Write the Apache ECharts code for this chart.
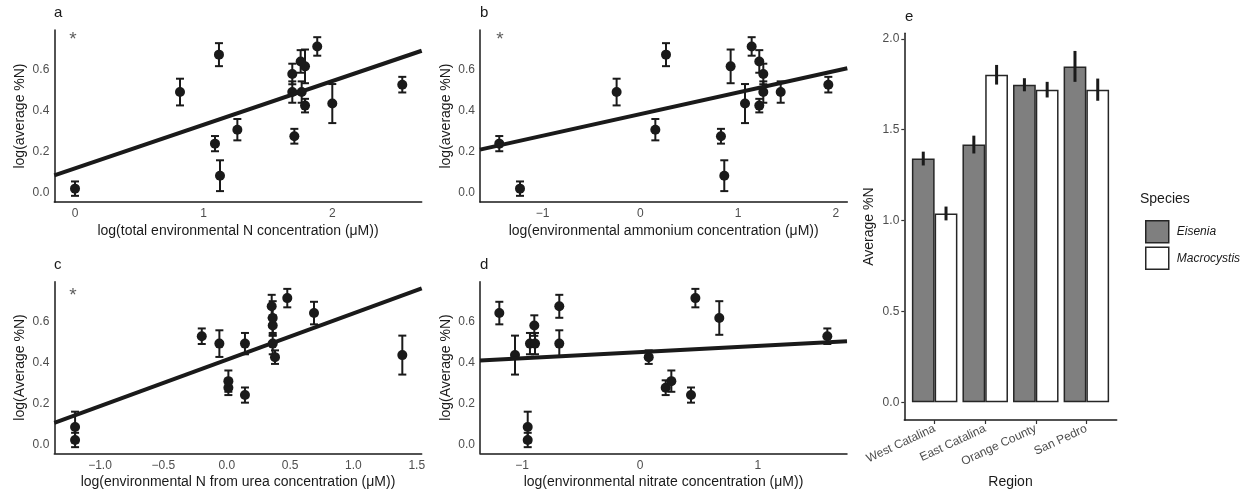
<!DOCTYPE html>
<html>
<head>
<meta charset="utf-8">
<script src="https://cdn.jsdelivr.net/npm/echarts@6/dist/echarts.min.js"></script>
<style>
  html, body { margin: 0; padding: 0; background: #fff; }
  #chart { width: 1247px; height: 496px; }
</style>
</head>
<body>
<div id="chart"></div>
<script>
// ---- Per-sample tissue nitrogen (log of average %N) and its standard error ----
const logN    = [0.021, 0.084, 0.240, 0.276, 0.308, 0.425, 0.435, 0.491, 0.491, 0.491, 0.527, 0.579, 0.616, 0.640, 0.673, 0.713];
const logNErr = [0.035, 0.075, 0.037, 0.036, 0.052, 0.033, 0.095, 0.065, 0.052, 0.052, 0.038, 0.050, 0.082, 0.055, 0.056, 0.045];

// ---- Environmental predictors for the same samples (log µM) ----
const totalN   = [0.000, 1.127, 1.088, 1.705, 1.262, 1.788, 2.000, 0.816, 1.689, 1.762, 2.544, 1.689, 1.788, 1.754, 1.119, 1.883];
const ammonium = [-1.231, 0.858, -1.443, 0.824, 0.153, 1.216, 1.070, -0.243, 1.257, 1.435, 1.922, 1.257, 0.923, 1.216, 0.262, 1.138];
const ureaN    = [-1.197, -1.197, 0.144, 0.013, 0.013, 0.381, 1.386, -0.058, 0.144, 0.363, -0.197, 0.363, 0.363, 0.689, 0.355, 0.478];
const nitrate  = [-0.953, -0.953, 0.433, 0.218, 0.266, 0.074, -1.061, -0.685, -0.934, -0.891, 1.590, -0.897, 0.673, -1.194, -0.685, 0.470];

// ---- Linear fits, evaluated at both ends of each x range ----
const fitTotalN   = [[-0.161, 0.086], [2.695, 0.692]];
const fitAmmonium = [[-1.640, 0.211], [2.116, 0.607]];
const fitUrea     = [[-1.361, 0.104], [1.539, 0.761]];
const fitNitrate  = [[-1.358, 0.409], [1.757, 0.503]];

// ---- Tick labels ----
const ticksLogN     = [0, 0.2, 0.4, 0.6];
const ticksTotalN   = [0, 1, 2];
const ticksAmmonium = [-1, 0, 1, 2];
const ticksUrea     = [-1.0, -0.5, 0.0, 0.5, 1.0, 1.5];
const ticksNitrate  = [-1, 0, 1];
const ticksPctN     = [0, 0.5, 1.0, 1.5, 2.0];

// ---- Regional averages of %N by species ----
const regions        = ['West Catalina', 'East Catalina', 'Orange County', 'San Pedro'];
const species        = ['Eisenia', 'Macrocystis'];
const eiseniaMean    = [1.341, 1.418, 1.747, 1.848];
const eiseniaErr     = [0.038, 0.049, 0.036, 0.085];
const macrocystisMean = [1.039, 1.802, 1.720, 1.720];
const macrocystisErr  = [0.038, 0.054, 0.043, 0.061];

const FONT = "'Liberation Sans', Arial, sans-serif";
const INK = '#1a1a1a';
const TICK_GREY = '#4d4d4d';
const minus = v => String(v).replace('-', '\u2212');

// ---- Shared renderers ----
function errorBarRenderer(cap, width) {
  return function (params, api) {
    const x = api.value(0);
    const top = api.coord([x, api.value(2)]);
    const bot = api.coord([x, api.value(1)]);
    const style = { stroke: INK, lineWidth: width };
    const children = [
      { type: 'line', shape: { x1: top[0], y1: top[1], x2: bot[0], y2: bot[1] }, style }
    ];
    if (cap > 0) {
      children.push({ type: 'line', shape: { x1: top[0] - cap, y1: top[1], x2: top[0] + cap, y2: top[1] }, style });
      children.push({ type: 'line', shape: { x1: bot[0] - cap, y1: bot[1], x2: bot[0] + cap, y2: bot[1] }, style });
    }
    return { type: 'group', children };
  };
}

// ---- Scatter panels a–d ----
const Y_RANGE = [-0.044, 0.793];
const panels = [
  { grid: { left: 54.3, top: 30, width: 367.4, height: 172 }, x: totalN, xr: [-0.161, 2.695], ticks: ticksTotalN, fmt: v => String(v),
    fit: fitTotalN, xName: 'log(total environmental N concentration (\u03BCM))', yName: 'log(average %N)', star: [-0.016, 0.745] },
  { grid: { left: 480, top: 30, width: 367.3, height: 172 }, x: ammonium, xr: [-1.640, 2.116], ticks: ticksAmmonium, fmt: v => minus(v),
    fit: fitAmmonium, xName: 'log(environmental ammonium concentration (\u03BCM))', yName: 'log(average %N)', star: [-1.436, 0.745] },
  { grid: { left: 54.3, top: 281.7, width: 367.4, height: 171.6 }, x: ureaN, xr: [-1.361, 1.539], ticks: ticksUrea, fmt: v => minus(v.toFixed(1)),
    fit: fitUrea, xName: 'log(environmental N from urea concentration (\u03BCM))', yName: 'log(Average %N)', star: [-1.213, 0.722] },
  { grid: { left: 480, top: 281.7, width: 367, height: 171.6 }, x: nitrate, xr: [-1.358, 1.757], ticks: ticksNitrate, fmt: v => minus(v),
    fit: fitNitrate, xName: 'log(environmental nitrate concentration (\u03BCM))', yName: 'log(Average %N)', star: null }
];

const grids = [], xAxes = [], yAxes = [], series = [];

panels.forEach((p, i) => {
  grids.push(p.grid);
  xAxes.push({
    type: 'value', gridIndex: i, min: p.xr[0], max: p.xr[1],
    splitLine: { show: false },
    axisLine: { show: true, onZero: false, lineStyle: { color: INK, width: 1.5 } },
    axisTick: { show: false, customValues: p.ticks },
    axisLabel: { customValues: p.ticks, formatter: p.fmt, color: TICK_GREY, fontSize: 12, fontFamily: FONT, margin: 6 },
    name: p.xName, nameLocation: 'middle', nameGap: 22,
    nameTextStyle: { color: INK, fontSize: 14, fontFamily: FONT }
  });
  yAxes.push({
    type: 'value', gridIndex: i, min: Y_RANGE[0], max: Y_RANGE[1],
    splitLine: { show: false },
    axisLine: { show: true, onZero: false, lineStyle: { color: INK, width: 1.5 } },
    axisTick: { show: false, customValues: ticksLogN },
    axisLabel: { customValues: ticksLogN, formatter: v => v.toFixed(1), color: TICK_GREY, fontSize: 12, fontFamily: FONT, margin: 5 },
    name: p.yName, nameLocation: 'middle', nameGap: 27,
    nameTextStyle: { color: INK, fontSize: 14, fontFamily: FONT }
  });

  series.push({
    type: 'custom', xAxisIndex: i, yAxisIndex: i, z: 2,
    renderItem: errorBarRenderer(4, 2),
    encode: { x: 0, y: [1, 2] },
    data: p.x.map((x, k) => [x, logN[k] - logNErr[k], logN[k] + logNErr[k]]),
    silent: true
  });
  series.push({
    type: 'scatter', xAxisIndex: i, yAxisIndex: i, z: 3,
    symbolSize: 10, itemStyle: { color: INK, opacity: 1 },
    data: p.x.map((x, k) => [x, logN[k]]),
    silent: true
  });
  series.push({
    type: 'line', xAxisIndex: i, yAxisIndex: i, z: 4,
    showSymbol: false, symbol: 'none',
    lineStyle: { color: INK, width: 4 },
    data: p.fit, silent: true
  });
  if (p.star) {
    series.push({
      type: 'scatter', xAxisIndex: i, yAxisIndex: i, z: 5,
      symbolSize: 0, data: [p.star], silent: true,
      label: { show: true, position: 'inside', formatter: '*', color: '#333', fontSize: 19, fontFamily: FONT }
    });
  }
});

// ---- Bar panel e ----
const E = grids.length;
const X_E = [0.4, 4.6];
const DODGE = 0.45;             // each bar occupies 0.45 of a category unit
const gridE = { left: 904.3, top: 33.3, width: 212.4, height: 386.7 };
const barPx = DODGE / (X_E[1] - X_E[0]) * gridE.width;
grids.push(gridE);
xAxes.push({
  type: 'value', gridIndex: E, min: X_E[0], max: X_E[1],
  splitLine: { show: false },
  axisLine: { show: true, onZero: false, lineStyle: { color: INK, width: 1.5 } },
  axisTick: { show: true, customValues: [1, 2, 3, 4], length: 4, lineStyle: { color: '#333', width: 1.2 } },
  axisLabel: { customValues: [1, 2, 3, 4], formatter: v => regions[Math.round(v) - 1], rotate: 25,
    color: TICK_GREY, fontSize: 12, fontFamily: FONT, margin: 8 },
  name: 'Region', nameLocation: 'middle', nameGap: 55,
  nameTextStyle: { color: INK, fontSize: 14, fontFamily: FONT }
});
yAxes.push({
  type: 'value', gridIndex: E, min: -0.097, max: 2.03,
  splitLine: { show: false },
  axisLine: { show: true, onZero: false, lineStyle: { color: INK, width: 1.5 } },
  axisTick: { show: true, customValues: ticksPctN, length: 3, lineStyle: { color: '#333', width: 1.2 } },
  axisLabel: { customValues: ticksPctN, formatter: v => v.toFixed(1), color: TICK_GREY, fontSize: 12, fontFamily: FONT, margin: 5 },
  name: 'Average %N', nameLocation: 'middle', nameGap: 28,
  nameTextStyle: { color: INK, fontSize: 14, fontFamily: FONT }
});

const barStyles = {
  Eisenia:     { color: '#7f7f7f', borderColor: '#262626', borderWidth: 1.5 },
  Macrocystis: { color: '#ffffff', borderColor: '#262626', borderWidth: 1.5 }
};
[[eiseniaMean, eiseniaErr, -DODGE / 2], [macrocystisMean, macrocystisErr, DODGE / 2]].forEach(([means, errs, shift], s) => {
  series.push({
    type: 'bar', name: species[s], xAxisIndex: E, yAxisIndex: E,
    barWidth: barPx, barGap: '0%', z: 2,
    itemStyle: barStyles[species[s]],
    data: means.map((m, k) => [k + 1, m]),
    silent: true
  });
  series.push({
    type: 'custom', xAxisIndex: E, yAxisIndex: E, z: 4,
    renderItem: errorBarRenderer(0, 3),
    encode: { x: 0, y: [1, 2] },
    data: means.map((m, k) => [k + 1 + shift, m - errs[k], m + errs[k]]),
    silent: true
  });
});

// ---- Panel letters and legend title ----
const letter = (text, x, y) => ({ type: 'text', left: x, top: y,
  style: { text, fill: INK, fontSize: 15, fontFamily: FONT } });

const chart = echarts.init(document.getElementById('chart'), null, { renderer: 'canvas' });
chart.setOption({
  animation: false,
  backgroundColor: '#ffffff',
  grid: grids,
  xAxis: xAxes,
  yAxis: yAxes,
  series,
  legend: {
    orient: 'vertical', left: 1140, top: 215,
    itemWidth: 23, itemHeight: 22, itemGap: 3, icon: 'rect',
    selectedMode: false,
    textStyle: { fontStyle: 'italic', fontSize: 12, color: INK, fontFamily: FONT, padding: [0, 0, 0, 3] },
    data: species.map(n => ({ name: n, itemStyle: barStyles[n] }))
  },
  graphic: [
    letter('a', 54, 5),
    letter('b', 480, 5),
    letter('c', 54, 257),
    letter('d', 480, 257),
    letter('e', 905, 9),
    { type: 'text', left: 1140, top: 192, style: { text: 'Species', fill: INK, fontSize: 14, fontFamily: FONT } }
  ]
});
</script>
</body>
</html>
